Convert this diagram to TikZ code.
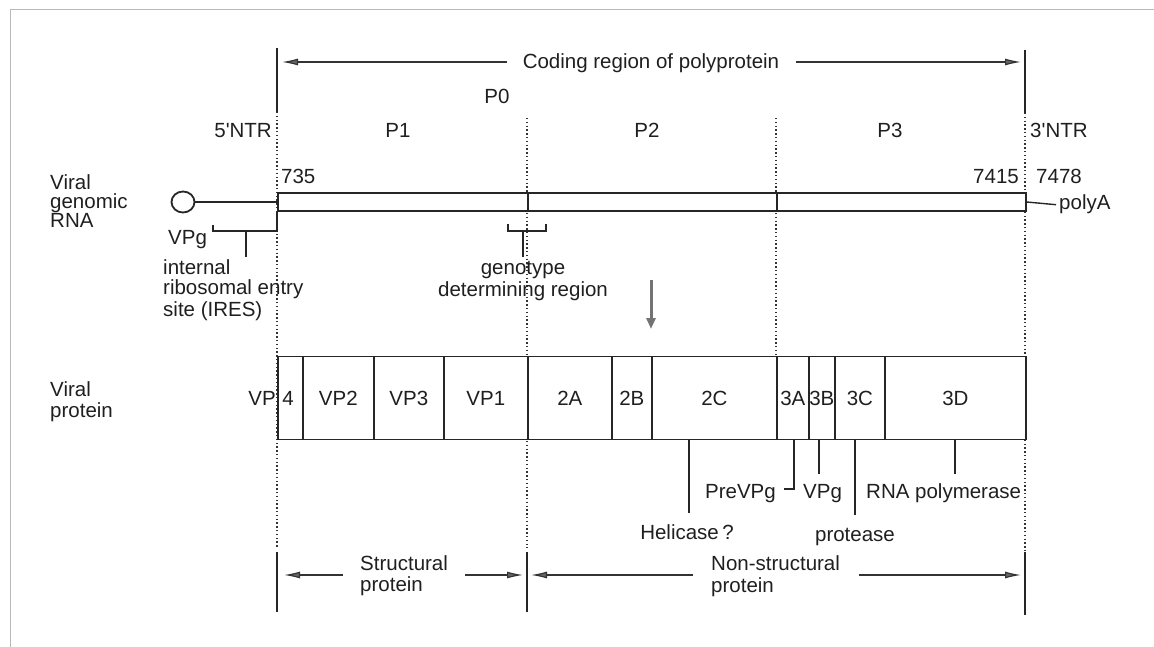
\documentclass[tikz,border=0pt]{standalone}
\usepackage{fontspec}
\setmainfont{Liberation Sans}
\usetikzlibrary{arrows.meta,shapes.geometric}
\begin{document}
\begin{tikzpicture}[x=1pt,y=-1pt,
  lbl/.style={font=\fontsize{20.5}{21}\selectfont, inner sep=0pt, text=black!88},
  ink/.style={draw=black!85, line width=1.4pt},
  guide/.style={draw=black!80, line width=1.3pt, dash pattern=on 1.4pt off 2.4pt},
  seg/.style={draw=black!85, line width=1.7pt, fill=white, rectangle, inner sep=0pt,
    minimum height=83pt, anchor=west, font=\fontsize{20.5}{21}\selectfont, text=black!88},
  rna/.style={draw=black!85, line width=1.7pt, fill=white, rectangle, inner sep=0pt,
    minimum height=18pt, anchor=west},
  arr/.style={draw=black!80, line width=1.2pt,
    -{Latex[length=16pt,width=7pt,fill=black!60]}},
]
\useasboundingbox (0,0) rectangle (1154,647);

% frame
\draw[gray!55, line width=1pt] (10,647) -- (10,10) -- (1154,10);

% guide lines between regions
\draw[guide] (277,112) -- (277,548);
\draw[guide] (527,118) -- (527,548);
\draw[guide] (776,118) -- (776,357);
\draw[guide] (1025,113) -- (1025,553);

% end bars of the coding region
\draw[ink] (277,48) -- (277,112);
\draw[ink] (1025,50) -- (1025,113);
\draw[ink] (277,552) -- (277,612);
\draw[ink] (527,552) -- (527,612);
\draw[ink] (1025,552) -- (1025,615);

\coordinate (topL) at (282,62);
\coordinate (topR) at (1021,62);
\coordinate (botA) at (284,575);
\coordinate (botB) at (523,575);
\coordinate (botC) at (531,575);
\coordinate (botD) at (1021,575);

% header
\node[lbl, anchor=base] (coding) at (651,69) {Coding region of polyprotein};
\draw[arr] ([xshift=-16pt]coding.west |- topL) -- (topL);
\draw[arr] ([xshift=17pt]coding.east |- topR) -- (topR);
\node[lbl, anchor=base] (p0) at (497,104) {P0};
\node[lbl, anchor=base east] (ntr5) at (272,138) {5\textquotesingle NTR};
\node[lbl, anchor=base] (p1) at (398,138) {P1};
\node[lbl, anchor=base] (p2) at (647,138) {P2};
\node[lbl, anchor=base] (p3) at (890,138) {P3};
\node[lbl, anchor=base west] (ntr3) at (1030,138) {3\textquotesingle NTR};
\node[lbl, anchor=base west] (n735) at (281,184) {735};
\node[lbl, anchor=base east] (n7415) at (1019,184) {7415};
\node[lbl, anchor=base west] (n7478) at (1036,184) {7478};

% genomic RNA (base anchor of a multi-line label is its last line)
\node[lbl, anchor=base west, align=left, font=\fontsize{20.5}{19}\selectfont] (rnalabel) at (50,228) {Viral\\genomic\\RNA};
\node[draw=black!85, line width=1.8pt, ellipse, minimum width=23pt, minimum height=21pt, inner sep=0pt] (cap) at (183,202) {};
\node[rna, minimum width=250pt] (r1) at (277,202) {};
\node[rna, minimum width=249pt] (r2) at (527,202) {};
\node[rna, minimum width=249pt] (r3) at (776,202) {};
\draw[ink] (cap.east) -- (r1.west);
\node[lbl, anchor=base west] (polya) at (1059,210) {polyA};
\draw[ink] (r3.east) -- ([xshift=-3pt]polya.west);

% VPg and IRES bracket
\node[lbl, anchor=base west] (vpgtop) at (168,244) {VPg};
\draw[ink] (213,225) -- (213,231) -- (277,231) -- (r1.south west);
\coordinate (iresstem) at (246,231);
\draw[ink] (iresstem) -- (246,257);
\node[lbl, anchor=base west, align=left] (ires) at (163,316) {internal\\ribosomal entry\\site (IRES)};

% genotype determining region bracket
\draw[ink] (508,224) -- (508,231) -- (546,231) -- (546,224);
\coordinate (genostem) at (523,231);
\node[lbl, anchor=base, align=center, font=\fontsize{20.5}{22}\selectfont] (geno) at (523,296) {genotype\\determining region};
\draw[ink] (genostem) -- (523,257);

% translation arrow
\coordinate (transA) at (651,280);
\coordinate (transB) at (651,329);
\draw[line width=3pt, draw=black!55, -{Triangle[length=11pt,width=9pt,fill=black!65]}] (transA) -- (transB);

% viral proteins
\node[lbl, anchor=base west, align=left] (protlabel) at (50,417) {Viral\\protein};
\node[seg, minimum width=25pt] (vp4) at (277,398) {};
\node[seg, minimum width=71pt] (vp2) at (302,398) {VP2};
\node[seg, minimum width=70pt] (vp3) at (373,398) {VP3};
\node[seg, minimum width=84pt] (vp1) at (443,398) {VP1};
\node[seg, minimum width=84pt] (c2A) at (527,398) {2A};
\node[seg, minimum width=40pt] (c2B) at (611,398) {2B};
\node[seg, minimum width=125pt] (c2C) at (651,398) {2C};
\node[seg, minimum width=32pt] (c3A) at (776,398) {3A};
\node[seg, minimum width=26pt] (c3B) at (808,398) {3B};
\node[seg, minimum width=50pt] (c3C) at (834,398) {3C};
\node[seg, minimum width=141pt] (c3D) at (884,398) {3D};
\node[lbl, anchor=base east] (vpa) at (276,405) {VP};
\node[lbl, anchor=base] (vpb) at (288,405) {4};

% protein function labels
\node[lbl, anchor=base] (helicase) at (687,539) {Helicase\,?};
\draw[ink] (689,440) -- (689,513);
\node[lbl, anchor=base east] (prevpg) at (776,498) {PreVPg};
\draw[ink] (c3A.south -| 794,0) -- (794,489) -- (784,489);
\node[lbl, anchor=base west] (vpg) at (803,498) {VPg};
\draw[ink] (c3B.south -| 819,0) -- (819,474);
\node[lbl, anchor=base] (protease) at (855,541) {protease};
\draw[ink] (c3C.south -| 855,0) -- (855,515);
\node[lbl, anchor=base west] (rnapol) at (866,498) {RNA polymerase};
\draw[ink] (c3D.south -| 955,0) -- (955,474);

% structural / non-structural spans
\node[lbl, anchor=base west, align=left] (struct) at (360,591) {Structural\\protein};
\draw[arr] ([xshift=-17pt]struct.west |- botA) -- (botA);
\draw[arr] ([xshift=17pt]struct.east |- botB) -- (botB);
\node[lbl, anchor=base west, align=left, font=\fontsize{20.5}{22}\selectfont] (nonstruct) at (711,592) {Non-structural\\protein};
\draw[arr] ([xshift=-18pt]nonstruct.west |- botC) -- (botC);
\draw[arr] ([xshift=19pt]nonstruct.east |- botD) -- (botD);
\end{tikzpicture}
\end{document}
